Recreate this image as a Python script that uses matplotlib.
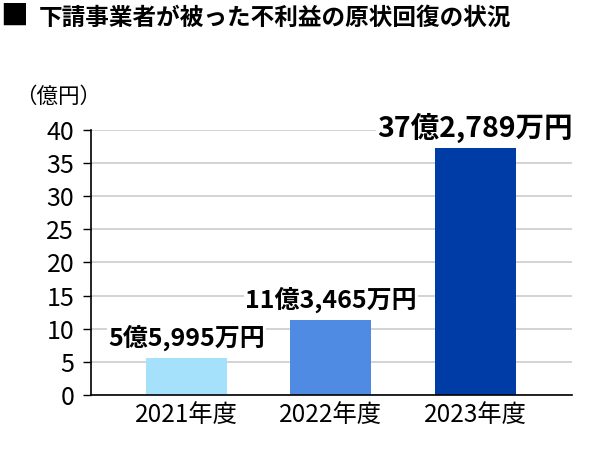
import matplotlib.pyplot as plt
import numpy as np

plt.rcParams['font.family'] = ['Noto Sans CJK JP', 'DejaVu Sans']

# data (億円)
years = ['2021年度', '2022年度', '2023年度']
values = [5.5995, 11.3465, 37.2789]
value_labels = ['5億5,995万円', '11億3,465万円', '37億2,789万円']
label_sizes = [18, 18, 20.5]
bar_colors = ['#a6e1fc', '#4f8be2', '#003ca6']
yticks = [0, 5, 10, 15, 20, 25, 30, 35, 40]

fig = plt.figure(figsize=(6.02, 4.54), dpi=100)
ax = fig.add_axes([0.151, 0.130, 0.799, 0.584])

x = np.arange(len(years))
ax.bar(x, values, width=0.56, color=bar_colors, zorder=2)

for xi, v, lab, fs in zip(x, values, value_labels, label_sizes):
    ax.annotate(lab, (xi, v), xytext=(0, 14.5), textcoords='offset points',
                ha='center', va='center', fontsize=fs, fontweight='bold',
                zorder=4,
                bbox=dict(boxstyle='square,pad=0.05', fc='white', ec='none'))

ax.set_xlim(-0.66, 2.67)
ax.set_ylim(0, 40)
ax.set_yticks(yticks)
ax.set_xticks(x)
ax.set_xticklabels(years, fontsize=17.5)
ax.tick_params(axis='x', length=0, pad=5)
ax.tick_params(axis='y', labelsize=18, length=6, width=1, pad=6)
ax.yaxis.grid(True, color='#d0d0d0', linewidth=1.3, zorder=0)
ax.set_axisbelow(True)
for s in ['top', 'right']:
    ax.spines[s].set_visible(False)
ax.spines['left'].set_linewidth(1.2)
ax.spines['bottom'].set_linewidth(1.2)

fig.text(0.025, 0.787, '（億円）', fontsize=15.5, ha='left', va='center')
fig.text(0.0, 0.962, '■', fontsize=20, ha='left', va='center')
fig.text(0.064, 0.962, '下請事業者が被った不利益の原状回復の状況',
         fontsize=17, fontweight='bold', ha='left', va='center')

fig.savefig('out.png', dpi=100)
